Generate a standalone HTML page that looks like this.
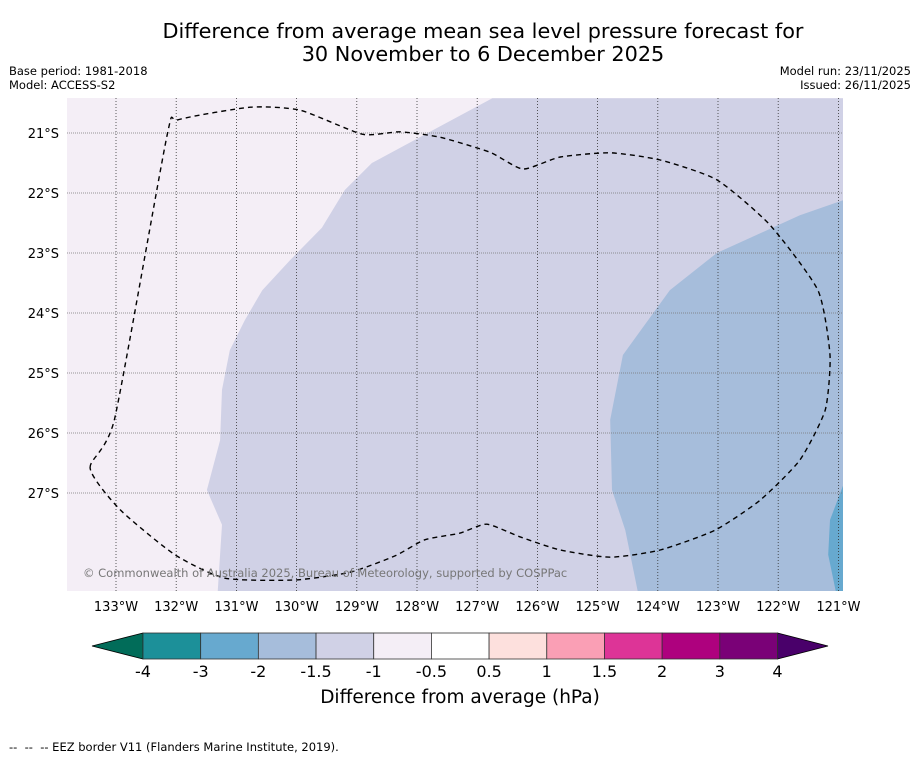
<!DOCTYPE html>
<html><head><meta charset="utf-8">
<style>
body{margin:0;background:#fff;}
svg{display:block;font-family:"DejaVu Sans","Liberation Sans",sans-serif;}
</style></head>
<body>
<svg width="919" height="758" viewBox="0 0 919 758">
<text x="483" y="38" font-size="20.8" text-anchor="middle">Difference from average mean sea level pressure forecast for</text>
<text x="483" y="61" font-size="20.8" text-anchor="middle">30 November to 6 December 2025</text>
<text x="9" y="75" font-size="11.5">Base period: 1981-2018</text>
<text x="9" y="89" font-size="11.5">Model: ACCESS-S2</text>
<text x="911" y="75" font-size="11.5" text-anchor="end">Model run: 23/11/2025</text>
<text x="911" y="89" font-size="11.5" text-anchor="end">Issued: 26/11/2025</text>
<g id="map"></g>
<g id="cbar"></g>
<text x="460" y="703" font-size="18.5" text-anchor="middle">Difference from average (hPa)</text>
<text x="9" y="751" font-size="11.5" xml:space="preserve">--  --  -- EEZ border V11 (Flanders Marine Institute, 2019).</text>
</svg>
<script>
const lonTicks=[-133,-132,-131,-130,-129,-128,-127,-126,-125,-124,-123,-122,-121];
const latTicks=[-21,-22,-23,-24,-25,-26,-27];
const cbLevels=["-4","-3","-2","-1.5","-1","-0.5","0.5","1","1.5","2","3","4"];
const cbColors=["#1c9099","#67a9cf","#a6bddb","#d0d1e6","#f4eef6","#ffffff","#fde0dd","#fa9fb5","#dd3497","#ae017e","#7a0177"];
const cbUnder="#016c59", cbOver="#49006a";
const lavender=[[-126.75,-20.42],[-128.75,-21.5],[-129.2,-21.95],[-129.58,-22.58],[-130.11,-23.12],[-130.57,-23.62],[-130.86,-24.12],[-131.11,-24.62],[-131.24,-25.28],[-131.27,-26.12],[-131.49,-26.95],[-131.24,-27.53],[-131.32,-28.8],[-120.92,-28.8],[-120.92,-20.42]];
const blue=[[-120.92,-22.12],[-121.64,-22.37],[-123.02,-23.0],[-123.8,-23.62],[-124.58,-24.7],[-124.79,-25.78],[-124.76,-26.95],[-124.54,-27.62],[-124.3,-28.8],[-120.92,-28.8]];
const blue2=[[-120.92,-26.87],[-121.14,-27.45],[-121.17,-28.03],[-121.01,-28.8],[-120.92,-28.8]];
const eez=[[-133.43,-26.58],[-133.02,-25.75],[-132.15,-21.03],[-131.97,-20.78],[-130.77,-20.57],[-129.94,-20.62],[-128.91,-21.02],[-128.28,-20.98],[-127.62,-21.07],[-126.79,-21.32],[-126.24,-21.6],[-125.62,-21.4],[-124.79,-21.33],[-123.96,-21.45],[-123.02,-21.78],[-122.14,-22.53],[-121.34,-23.62],[-121.14,-24.7],[-121.22,-25.62],[-121.64,-26.45],[-122.3,-27.12],[-123.05,-27.62],[-123.96,-27.95],[-124.79,-28.07],[-125.62,-27.95],[-126.29,-27.73],[-126.84,-27.52],[-127.29,-27.67],[-127.87,-27.78],[-128.37,-28.05],[-129.11,-28.32],[-130.03,-28.45],[-131.19,-28.42],[-132.02,-28.03],[-132.93,-27.28]];
const NS="http://www.w3.org/2000/svg";
const L=67,R=843,T=98,B=591;
const xs=lon=>116+(lon+133)*60.2;
const ys=lat=>133+(-21-lat)*60;
function mk(tag,attrs,parent){const e=document.createElementNS(NS,tag);for(const k in attrs)e.setAttribute(k,attrs[k]);parent.appendChild(e);return e;}
const map=document.getElementById('map');
const defs=mk('defs',{},map);
const cp=mk('clipPath',{id:'clip'},defs);
mk('rect',{x:L,y:T,width:R-L,height:B-T},cp);
const g=mk('g',{'clip-path':'url(#clip)'},map);
const bg=mk('rect',{x:L,y:T,width:R-L,height:B-T,fill:'#f4eef6'},g);


const pts=a=>a.map(p=>xs(p[0]).toFixed(1)+','+ys(p[1]).toFixed(1)).join(' ');
const p1=mk('polygon',{points:pts(lavender),fill:'#d0d1e6'},g);


const p2=mk('polygon',{points:pts(blue),fill:'#a6bddb'},g);


const p3=mk('polygon',{points:pts(blue2),fill:'#67a9cf'},g);


lonTicks.forEach(lon=>{
  const x=xs(lon);
  const l=mk('line',{x1:x,x2:x,y1:T,y2:B,stroke:'#333',"stroke-width":0.8,"stroke-dasharray":"1,2"},g);
  
  
  const t=mk('text',{x:x,y:611,"font-size":13,"text-anchor":"middle"},map);
  t.textContent=Math.abs(lon)+'°W';
  
  
});
latTicks.forEach(lat=>{
  const y=ys(lat);
  const l=mk('line',{x1:L,x2:R,y1:y,y2:y,stroke:'#777',"stroke-width":0.8,"stroke-dasharray":"1,1"},g);
  
  
  const t=mk('text',{x:59,y:y+5,"font-size":13,"text-anchor":"end"},map);
  t.textContent=Math.abs(lat)+'°S';
  
  
});
const P=eez.map(p=>[xs(p[0]),ys(p[1])]);
const N=P.length;
let d='M'+P[0][0].toFixed(1)+','+P[0][1].toFixed(1);
for(let i=0;i<N;i++){
  const p0=P[(i-1+N)%N],p1=P[i],p2=P[(i+1)%N],p3=P[(i+2)%N];
  const c1=[p1[0]+(p2[0]-p0[0])/10,p1[1]+(p2[1]-p0[1])/10];
  const c2=[p2[0]-(p3[0]-p1[0])/10,p2[1]-(p3[1]-p1[1])/10];
  d+=` C${c1[0].toFixed(1)},${c1[1].toFixed(1)} ${c2[0].toFixed(1)},${c2[1].toFixed(1)} ${p2[0].toFixed(1)},${p2[1].toFixed(1)}`;
}
const e=mk('path',{d:d+'Z',fill:'none',stroke:'#000',"stroke-width":1.4,"stroke-dasharray":"5,4"},g);


const c=mk('text',{x:83,y:577,"font-size":11.5,fill:'#777'},g);
c.textContent='© Commonwealth of Australia 2025, Bureau of Meteorology, supported by COSPPac';


const cb=document.getElementById('cbar');
const cbL=143,cbR=777.5,cbT=633,cbB=659,n=cbColors.length,w=(cbR-cbL)/n;
const u=mk('polygon',{points:`${cbL},${cbT} ${cbL},${cbB} 92,${(cbT+cbB)/2}`,fill:cbUnder,stroke:'#000',"stroke-width":0.8},cb);


const o=mk('polygon',{points:`${cbR},${cbT} ${cbR},${cbB} 828,${(cbT+cbB)/2}`,fill:cbOver,stroke:'#000',"stroke-width":0.8},cb);


cbColors.forEach((col,i)=>{
  const r=mk('rect',{x:cbL+i*w,y:cbT,width:w,height:cbB-cbT,fill:col,stroke:'#333',"stroke-width":0.8},cb);
  
  
});
cbLevels.forEach((lv,i)=>{
  const t=mk('text',{x:cbL+i*w,y:677,"font-size":16,"text-anchor":"middle"},cb);
  t.textContent=lv;
  
  
});
</script>
</body></html>
